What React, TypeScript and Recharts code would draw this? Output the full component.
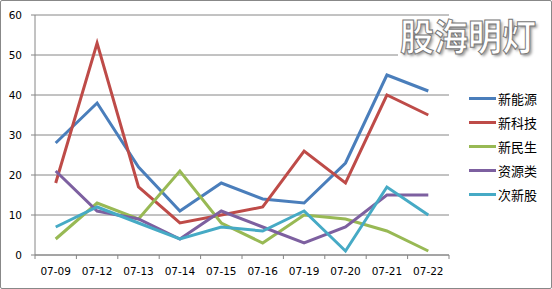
import { LineChart, CartesianGrid, XAxis, YAxis, Line } from 'recharts';

const dates = ['07-09', '07-12', '07-13', '07-14', '07-15', '07-16', '07-19', '07-20', '07-21', '07-22'];
const newEnergy = [28, 38, 22, 11, 18, 14, 13, 23, 45, 41];
const newTech = [18, 53, 17, 8, 10, 12, 26, 18, 40, 35];
const newLivelihood = [4, 13, 9, 21, 8, 3, 10, 9, 6, 1];
const resources = [21, 11, 9, 4, 11, 7, 3, 7, 15, 15];
const subNew = [7, 12, 8, 4, 7, 6, 11, 1, 17, 10];
const yTicks = [0, 10, 20, 30, 40, 50, 60];

const series = [
  { key: '新能源', values: newEnergy, color: '#4A7EBB' },
  { key: '新科技', values: newTech, color: '#BE4B48' },
  { key: '新民生', values: newLivelihood, color: '#98B954' },
  { key: '资源类', values: resources, color: '#7D60A0' },
  { key: '次新股', values: subNew, color: '#46AAC5' },
];

const data = dates.map((d, i) => {
  const row: Record<string, string | number> = { date: d };
  series.forEach((s) => { row[s.key] = s.values[i]; });
  return row;
});

const axisFont = { fontFamily: 'DejaVu Sans', fontSize: 10.5, fill: '#000' };
const half = 20.7; // half a category, for the tick marks between labels

function DateTick(props: any) {
  const { x, y, payload, index } = props;
  return (
    <g>
      <line x1={x - half} x2={x - half} y1={y} y2={y + 4} stroke="#868686" />
      {index === dates.length - 1 && <line x1={x + half} x2={x + half} y1={y} y2={y + 4} stroke="#868686" />}
      <text x={x} y={y + 13} dy="0.71em" textAnchor="middle" {...axisFont}>{payload.value}</text>
    </g>
  );
}

function LegendBox() {
  return (
    <div style={{ position: 'absolute', left: 469, top: 86 }}>
      {series.map((s) => (
        <div key={s.key} style={{ display: 'flex', alignItems: 'center', height: 24 }}>
          <div style={{ width: 27, height: 3, background: s.color }} />
          <span style={{ marginLeft: 2, fontFamily: '"Noto Sans CJK SC"', fontSize: 13, color: '#000' }}>{s.key}</span>
        </div>
      ))}
    </div>
  );
}

export default function App() {
  return (
    <div style={{ position: 'absolute', left: 0, top: 0, width: 552, height: 289, background: '#fff' }}>
      <LineChart width={552} height={289} data={data} margin={{ top: 15, right: 103, left: 0, bottom: 0 }}>
        <CartesianGrid vertical={false} stroke="#868686" />
        <XAxis dataKey="date" height={34} stroke="#868686" tickLine={false}
          padding={{ left: half, right: half }} tickSize={0} tickMargin={0} tick={<DateTick />} interval={0} />
        <YAxis domain={[0, 60]} ticks={yTicks} width={35} tickSize={4} tickMargin={9}
          stroke="#868686" tick={axisFont} />
        {series.map((s) => (
          <Line key={s.key} type="linear" dataKey={s.key} stroke={s.color} strokeWidth={3}
            dot={false} isAnimationActive={false} />
        ))}
      </LineChart>
      <LegendBox />
      <div style={{
        position: 'absolute', left: 398, top: 16, width: 146, height: 41, background: '#fff',
      }} />
      <div style={{
        position: 'absolute', left: 400, top: 12, transform: 'scaleX(0.92)', transformOrigin: 'left top',
        fontFamily: '"Noto Sans CJK SC"', fontWeight: 700, fontSize: 37, lineHeight: '46px',
        color: '#fff', WebkitTextStroke: '1px #777', textShadow: '2px 2px 3px #999', whiteSpace: 'nowrap',
      }}>股海明灯</div>
      <div style={{
        position: 'absolute', left: 0, top: 0, width: 552, height: 289, boxSizing: 'border-box',
        border: '1px solid #888', borderRadius: 2, pointerEvents: 'none',
      }} />
    </div>
  );
}
